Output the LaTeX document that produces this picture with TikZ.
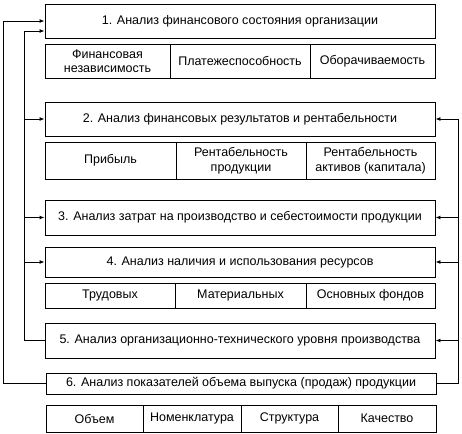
\documentclass[tikz,border=0pt]{standalone}
\usepackage{fontspec}
\setmainfont{Liberation Sans}
\usetikzlibrary{arrows.meta}
\begin{document}
\begin{tikzpicture}[x=1pt,y=-1pt,
	box/.style={draw,line width=0.9pt,minimum width=390pt,inner sep=0pt,font=\fontsize{12.5}{14}\selectfont},
	cell/.style={draw,line width=0.9pt,inner sep=0pt,align=center,font=\fontsize{12.5}{14.5}\selectfont},
	link/.style={line width=0.9pt},
	arr/.style={link,-{Latex[length=5pt,width=4pt]}}]
	\useasboundingbox (0,0) rectangle (462,433);
	% main stages
	\node[box,minimum height=34pt] (A1) at (240,21) {1. Анализ финансового состояния организации};
	\node[box,minimum height=34pt] (A2) at (240,119) {2. Анализ финансовых результатов и рентабельности};
	\node[box,minimum height=35pt] (A3) at (240,217.5) {3. Анализ затрат на производство и себестоимости продукции};
	\node[box,minimum height=30pt] (A4) at (240,262) {4. Анализ наличия и использования ресурсов};
	\node[box,minimum height=35pt] (A5) at (240,340.5) {5. Анализ организационно-технического уровня производства};
	\node[box,minimum height=21pt] (A6) at (241,383.5) {6. Анализ показателей объема выпуска (продаж) продукции};
	% sub rows
	\node[cell,minimum width=125pt,minimum height=34pt] (F1) at (107.5,61) {Финансовая\\независимость};
	\node[cell,minimum width=140pt,minimum height=34pt] (F2) at (240,61) {Платежеспособность};
	\node[cell,minimum width=125pt,minimum height=34pt] (F3) at (372.5,61) {Оборачиваемость};
	\node[cell,minimum width=131pt,minimum height=37pt] (R1) at (110.5,160.5) {Прибыль};
	\node[cell,minimum width=130pt,minimum height=37pt] (R2) at (241,160.5) {Рентабельность\\продукции};
	\node[cell,minimum width=129pt,minimum height=37pt] (R3) at (370.5,160.5) {Рентабельность\\активов (капитала)};
	\node[cell,minimum width=130pt,minimum height=25pt] (S1) at (110,295.5) {Трудовых};
	\node[cell,minimum width=131pt,minimum height=25pt] (S2) at (240.5,295.5) {Материальных};
	\node[cell,minimum width=129pt,minimum height=25pt] (S3) at (370.5,295.5) {Основных фондов};
	\node[cell,minimum width=97pt,minimum height=27pt] (V1) at (94.5,418.5) {Объем};
	\node[cell,minimum width=98pt,minimum height=27pt] (V2) at (192,418.5) {Номенклатура};
	\node[cell,minimum width=97pt,minimum height=27pt] (V3) at (289.5,418.5) {Структура};
	\node[cell,minimum width=98pt,minimum height=27pt] (V4) at (387,418.5) {Качество};
	% feedback lines
	\path (A6.west) -| (3,0) coordinate (outer)
		(A5.west) -| (24,0) coordinate (inner)
		(A6.east) -| (458,0) coordinate (right);
	\draw[arr] (A6.west) -| (outer |- A1.west) -- (A1.west);
	\draw[arr] (A5.west) -| ([yshift=-10pt]inner |- A1.west) -- ([yshift=-10pt]A1.west);
	\foreach \n in {A2,A3,A4}
		\draw[arr] (inner |- \n.west) -- (\n.west);
	\draw[arr] (A6.east) -| (right |- A2.east) -- (A2.east);
	\foreach \n in {A3,A4,A5}
		\draw[arr] (right |- \n.east) -- (\n.east);
\end{tikzpicture}
\end{document}
